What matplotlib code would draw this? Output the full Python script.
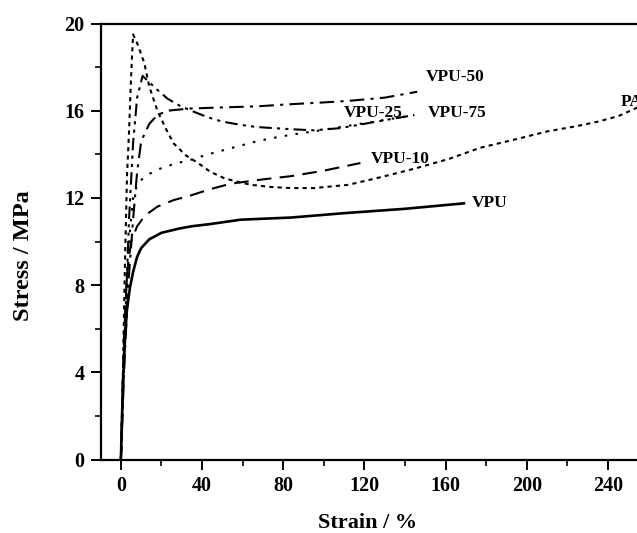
import matplotlib
matplotlib.use("Agg")
import matplotlib.pyplot as plt
from matplotlib.ticker import MultipleLocator

plt.rcParams['font.family'] = ['Liberation Serif', 'DejaVu Serif']
plt.rcParams['font.weight'] = 'bold'

# ---- data ----
vpu_x = [0, 1, 2, 3, 4.5, 6, 8, 10, 14, 20, 29, 35, 44, 59, 84, 110, 140, 169]
vpu_y = [0, 3.5, 5.5, 6.9, 7.9, 8.6, 9.3, 9.7, 10.1, 10.4, 10.6, 10.7, 10.8, 11.0, 11.1, 11.3, 11.5, 11.75]

vpu10_x = [0, 1.5, 3, 5, 8, 12, 18, 26, 34, 44, 54, 70, 84, 100, 118]
vpu10_y = [0, 5.5, 8.5, 10.0, 10.7, 11.2, 11.6, 11.9, 12.1, 12.4, 12.65, 12.85, 13.0, 13.25, 13.6]

pa_x = [0, 1, 2, 3, 4, 5, 6, 8, 11.5, 14, 18, 22, 26, 32, 38, 44, 51, 57, 64, 74, 84, 95, 112,
        128, 145, 162, 177, 195, 210, 225, 235, 245, 251, 258]
pa_y = [0, 4, 9, 13, 15, 17.5, 19.5, 19.1, 18.2, 17.1, 16.0, 15.2, 14.5, 13.95, 13.6, 13.2, 12.9,
        12.75, 12.6, 12.5, 12.45, 12.45, 12.6, 12.95, 13.35, 13.8, 14.3, 14.7, 15.05, 15.3, 15.5,
        15.75, 16.0, 16.3]

vpu25_x = [0, 2, 4, 6, 8.2, 12, 18, 26, 34.5, 43, 51, 59, 67, 75, 84, 95, 108, 125, 144.5]
vpu25_y = [0, 6, 10, 12, 12.65, 13.0, 13.3, 13.55, 13.75, 14.0, 14.2, 14.4, 14.6, 14.75, 14.9,
           15.05, 15.25, 15.5, 15.8]

vpu50_x = [0, 2, 4, 6, 8, 10, 14, 18, 23, 34, 50, 67, 84, 100, 112, 130, 146]
vpu50_y = [0, 5, 8.5, 11, 13.2, 14.6, 15.4, 15.8, 16.0, 16.1, 16.15, 16.2, 16.3, 16.38, 16.45, 16.6, 16.87]

vpu75_x = [0, 2, 4, 6, 8, 10.7, 14, 18, 23, 29.5, 36, 42.7, 50, 59, 67, 75.5, 84, 95, 108, 120, 132, 144.5]
vpu75_y = [0, 6, 11, 14.5, 16.6, 17.6, 17.3, 16.95, 16.55, 16.2, 15.95, 15.7, 15.5, 15.35, 15.25,
           15.2, 15.15, 15.1, 15.2, 15.4, 15.6, 15.8]

curve_labels = ['VPU', 'VPU-10', 'VPU-25', 'VPU-50', 'VPU-75', 'PA']
label_x = [173, 123, 110, 150, 151, 246]
label_y = [11.78, 13.77, 15.9, 17.55, 15.9, 16.4]

x_ticks = [0, 40, 80, 120, 160, 200, 240]
y_ticks = [0, 4, 8, 12, 16, 20]

# ---- figure ----
W, H = 637, 533
fig = plt.figure(figsize=(W / 100, H / 100), dpi=100)
ax_left, ax_bottom_px, ax_top_px = 101, 459.5, 23.5
xmin, xmax = -9.8, 300
pxu = 2.03
ax_w = (xmax - xmin) * pxu
ax = fig.add_axes([ax_left / W, (H - ax_bottom_px) / H, ax_w / W, (ax_bottom_px - ax_top_px) / H])

lw = 1.5
ax.plot(vpu_x, vpu_y, color='black', lw=1.9, ls='-')
ax.plot(vpu10_x, vpu10_y, color='black', lw=lw, ls=(0, (7, 4)))
ax.plot(pa_x, pa_y, color='black', lw=lw, ls=(0, (2, 2)))
ax.plot(vpu25_x, vpu25_y, color='black', lw=lw, ls=(0, (1.2, 4)))
ax.plot(vpu50_x, vpu50_y, color='black', lw=lw, ls=(0, (7, 3, 1.5, 3)))
ax.plot(vpu75_x, vpu75_y, color='black', lw=lw, ls=(0, (6, 2.5, 1.5, 2.5, 1.5, 2.5)))

for t, lx, ly in zip(curve_labels, label_x, label_y):
    ax.text(lx, ly, t, fontsize=12.5, fontweight='bold', ha='left', va='center')

ax.set_xlim(xmin, xmax)
ax.set_ylim(0, 20)
ax.set_xticks(x_ticks)
ax.set_yticks(y_ticks)
ax.xaxis.set_minor_locator(MultipleLocator(20))
ax.yaxis.set_minor_locator(MultipleLocator(2))
ax.tick_params(which='major', direction='out', length=7, width=1.4, labelsize=14.5, pad=5)
ax.tick_params(which='minor', direction='out', length=4, width=1.2)
for lab in ax.get_xticklabels() + ax.get_yticklabels():
    lab.set_fontweight('bold')
for s in ax.spines.values():
    s.set_linewidth(1.6)

ax.set_xlabel('Strain / %', fontsize=16, fontweight='bold')
ax.set_ylabel('Stress / MPa', fontsize=17.5, fontweight='bold')
ax.xaxis.set_label_coords((368 - ax_left) / ax_w, -0.122)
ax.yaxis.set_label_coords((34 - ax_left) / ax_w, 0.467)

fig.savefig('out.png', dpi=100)
